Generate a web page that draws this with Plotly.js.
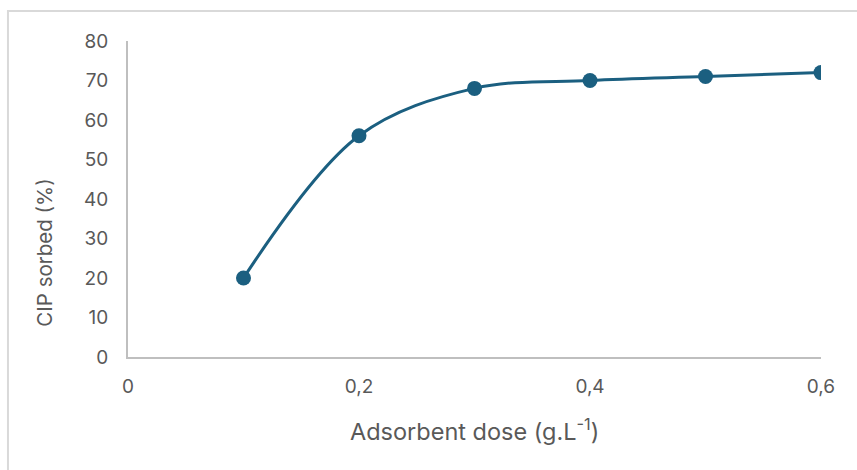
<!DOCTYPE html>
<html>
<head>
<meta charset="utf-8">
<script src="https://cdn.plot.ly/plotly-3.0.1.min.js"></script>
<style>
html,body{margin:0;padding:0;background:#fff;}
#chart{width:857px;height:470px;}
</style>
</head>
<body>
<div id="chart"></div>
<script>
const doseValues = [0.1, 0.2, 0.3, 0.4, 0.5, 0.6];
const sorbedValues = [20, 56, 68, 70, 71, 72];
const xTickVals = [0, 0.2, 0.4, 0.6];
const xTickText = ["0", "0,2", "0,4", "0,6"];
const xTitle = "Adsorbent dose (g.L<sup>-1</sup>)";
const yTitle = "CIP sorbed (%)";

const lineColor = "#1b5f80";
const textColor = "#595959";
const axisColor = "#bfbfbf";
const fontFam = "Inter, 'Open Sans', 'Liberation Sans', sans-serif";

const trace = {
  x: doseValues,
  y: sorbedValues,
  type: "scatter",
  mode: "lines+markers",
  line: {color: lineColor, width: 3, shape: "spline", smoothing: 1},
  marker: {color: lineColor, size: 15},
  showlegend: false,
  hoverinfo: "skip"
};

const layout = {
  width: 857,
  height: 470,
  margin: {l: 128, r: 36, t: 41, b: 113},
  paper_bgcolor: "#ffffff",
  plot_bgcolor: "#ffffff",
  font: {family: fontFam, color: textColor, size: 19},
  xaxis: {
    range: [0, 0.6],
    tickvals: xTickVals,
    ticktext: xTickText,
    showgrid: false,
    zeroline: false,
    showline: true,
    linecolor: axisColor,
    linewidth: 2,
    ticks: "outside",
    ticklen: 11,
    tickcolor: "rgba(0,0,0,0)",
    tickfont: {size: 19, color: textColor},
    fixedrange: true
  },
  yaxis: {
    range: [0, 80],
    dtick: 10,
    showgrid: false,
    zeroline: false,
    showline: true,
    linecolor: axisColor,
    linewidth: 2,
    ticks: "outside",
    ticklen: 14,
    tickcolor: "rgba(0,0,0,0)",
    tickfont: {size: 19, color: textColor},
    fixedrange: true
  },
  annotations: [
    {
      text: xTitle,
      xref: "paper", yref: "paper",
      x: 0.5, y: -0.232,
      xanchor: "center", yanchor: "middle",
      showarrow: false,
      font: {size: 23.5, color: textColor, family: fontFam}
    },
    {
      text: yTitle,
      xref: "paper", yref: "paper",
      x: -0.1198, y: 0.33,
      xanchor: "center", yanchor: "middle",
      textangle: -90,
      showarrow: false,
      font: {size: 20.5, color: textColor, family: fontFam}
    }
  ],
  shapes: [{
    type: "rect",
    xref: "paper", yref: "paper",
    x0: -0.1732, x1: 1.2, y0: -0.5, y1: 1.0949,
    line: {color: "#d9d9d9", width: 2},
    fillcolor: "rgba(0,0,0,0)",
    layer: "below"
  }]
};

Plotly.newPlot("chart", [trace], layout, {displayModeBar: false, staticPlot: true});
</script>
</body>
</html>
